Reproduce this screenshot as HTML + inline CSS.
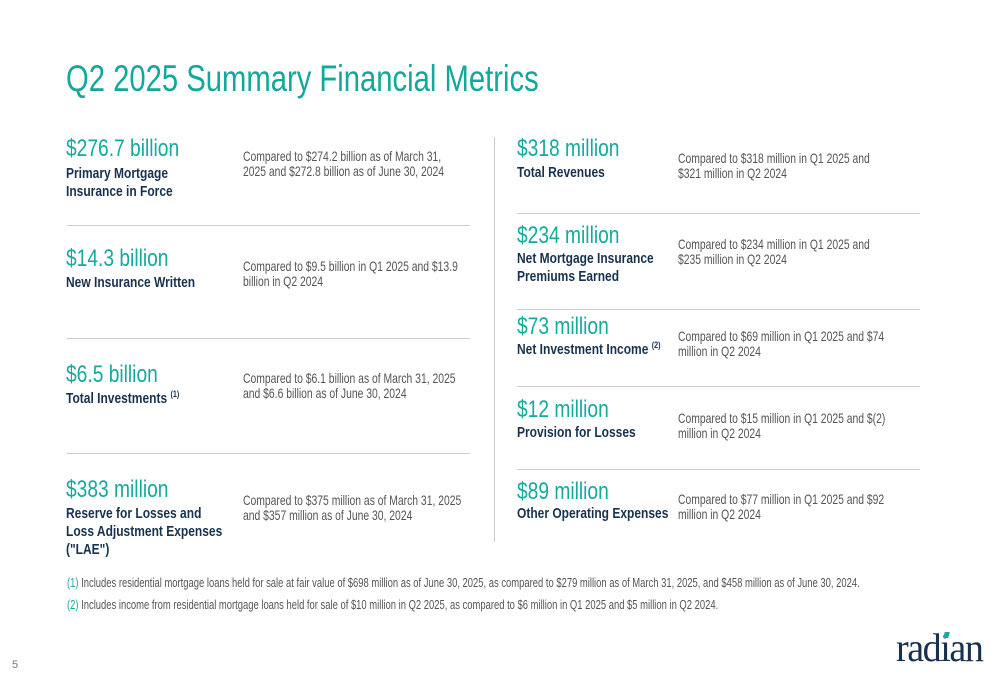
<!DOCTYPE html>
<html><head><meta charset="utf-8"><style>
body{margin:0;width:1000px;height:685px;background:#fff;position:relative;overflow:hidden;font-family:"Liberation Sans",sans-serif}
.a{position:absolute;transform:scaleX(.8);transform-origin:0 0;white-space:nowrap}
.t{color:#12a89a;font-size:37px;transform:scaleX(.79)}
.v{color:#14aa9c;font-size:24px;line-height:26px}
.l{color:#17324f;font-size:15px;font-weight:bold;line-height:18px}
.d{color:#555;font-size:14px;line-height:15px;transform:scaleX(.74)}
.h{position:absolute;height:1px;background:#ccc}
.f{color:#555;font-size:13px;transform:scaleX(.725)}
.f span{color:#14aa9c}
sup{font-size:9px;line-height:0}
</style></head><body>
<div class="a t" style="left:66px;top:58px">Q2 2025 Summary Financial Metrics</div>

<div style="position:absolute;left:494px;top:137px;width:1px;height:405px;background:#ccc"></div>

<div>
<div class="a v" style="left:66px;top:136px">$276.7 billion</div>
<div class="a l" style="left:66px;top:165px">Primary Mortgage<br>Insurance in Force</div>
<div class="a d" style="left:243px;top:149px">Compared to $274.2 billion as of March 31,<br>2025 and $272.8 billion as of June 30, 2024</div>
</div>
<div class="h" style="left:67px;top:225px;width:403px"></div>

<div>
<div class="a v" style="left:66px;top:246px">$14.3 billion</div>
<div class="a l" style="left:66px;top:274px">New Insurance Written</div>
<div class="a d" style="left:243px;top:259px">Compared to $9.5 billion in Q1 2025 and $13.9<br>billion in Q2 2024</div>
</div>
<div class="h" style="left:67px;top:338px;width:403px"></div>

<div>
<div class="a v" style="left:66px;top:362px">$6.5 billion</div>
<div class="a l" style="left:66px;top:390px">Total Investments <sup>(1)</sup></div>
<div class="a d" style="left:243px;top:371px">Compared to $6.1 billion as of March 31, 2025<br>and $6.6 billion as of June 30, 2024</div>
</div>
<div class="h" style="left:67px;top:453px;width:403px"></div>

<div>
<div class="a v" style="left:66px;top:477px">$383 million</div>
<div class="a l" style="left:66px;top:505px">Reserve for Losses and<br>Loss Adjustment Expenses<br>("LAE")</div>
<div class="a d" style="left:243px;top:493px">Compared to $375 million as of March 31, 2025<br>and $357 million as of June 30, 2024</div>
</div>

<div>
<div class="a v" style="left:517px;top:136px">$318 million</div>
<div class="a l" style="left:517px;top:164px">Total Revenues</div>
<div class="a d" style="left:678px;top:151px">Compared to $318 million in Q1 2025 and<br>$321 million in Q2 2024</div>
</div>
<div class="h" style="left:517px;top:213px;width:403px"></div>

<div>
<div class="a v" style="left:517px;top:223px">$234 million</div>
<div class="a l" style="left:517px;top:250px">Net Mortgage Insurance<br>Premiums Earned</div>
<div class="a d" style="left:678px;top:237px">Compared to $234 million in Q1 2025 and<br>$235 million in Q2 2024</div>
</div>
<div class="h" style="left:517px;top:309px;width:403px"></div>

<div>
<div class="a v" style="left:517px;top:314px">$73 million</div>
<div class="a l" style="left:517px;top:341px">Net Investment Income <sup>(2)</sup></div>
<div class="a d" style="left:678px;top:329px">Compared to $69 million in Q1 2025 and $74<br>million in Q2 2024</div>
</div>
<div class="h" style="left:517px;top:386px;width:403px"></div>

<div>
<div class="a v" style="left:517px;top:397px">$12 million</div>
<div class="a l" style="left:517px;top:424px">Provision for Losses</div>
<div class="a d" style="left:678px;top:411px">Compared to $15 million in Q1 2025 and $(2)<br>million in Q2 2024</div>
</div>
<div class="h" style="left:517px;top:469px;width:403px"></div>

<div>
<div class="a v" style="left:517px;top:479px">$89 million</div>
<div class="a l" style="left:517px;top:505px">Other Operating Expenses</div>
<div class="a d" style="left:678px;top:492px">Compared to $77 million in Q1 2025 and $92<br>million in Q2 2024</div>
</div>

<div class="a f" style="left:67px;top:575px"><span>(1)</span> Includes residential mortgage loans held for sale at fair value of $698 million as of June 30, 2025, as compared to $279 million as of March 31, 2025, and $458 million as of June 30, 2024.</div>
<div class="a f" style="left:67px;top:597px"><span>(2)</span> Includes income from residential mortgage loans held for sale of $10 million in Q2 2025, as compared to $6 million in Q1 2025 and $5 million in Q2 2024.</div>

<div style="position:absolute;left:12px;top:659px;font-size:11px;color:#777">5</div>
<div style="position:absolute;left:896px;top:624px;font-family:'Liberation Serif',serif;font-size:40px;color:#17324f;letter-spacing:-1.5px;transform:scaleX(.95);transform-origin:0 0">radian</div>
<div style="position:absolute;left:944px;top:632px;width:5px;height:6px;background:#14aa9c;transform:skewX(-15deg)"></div>
</body></html>
